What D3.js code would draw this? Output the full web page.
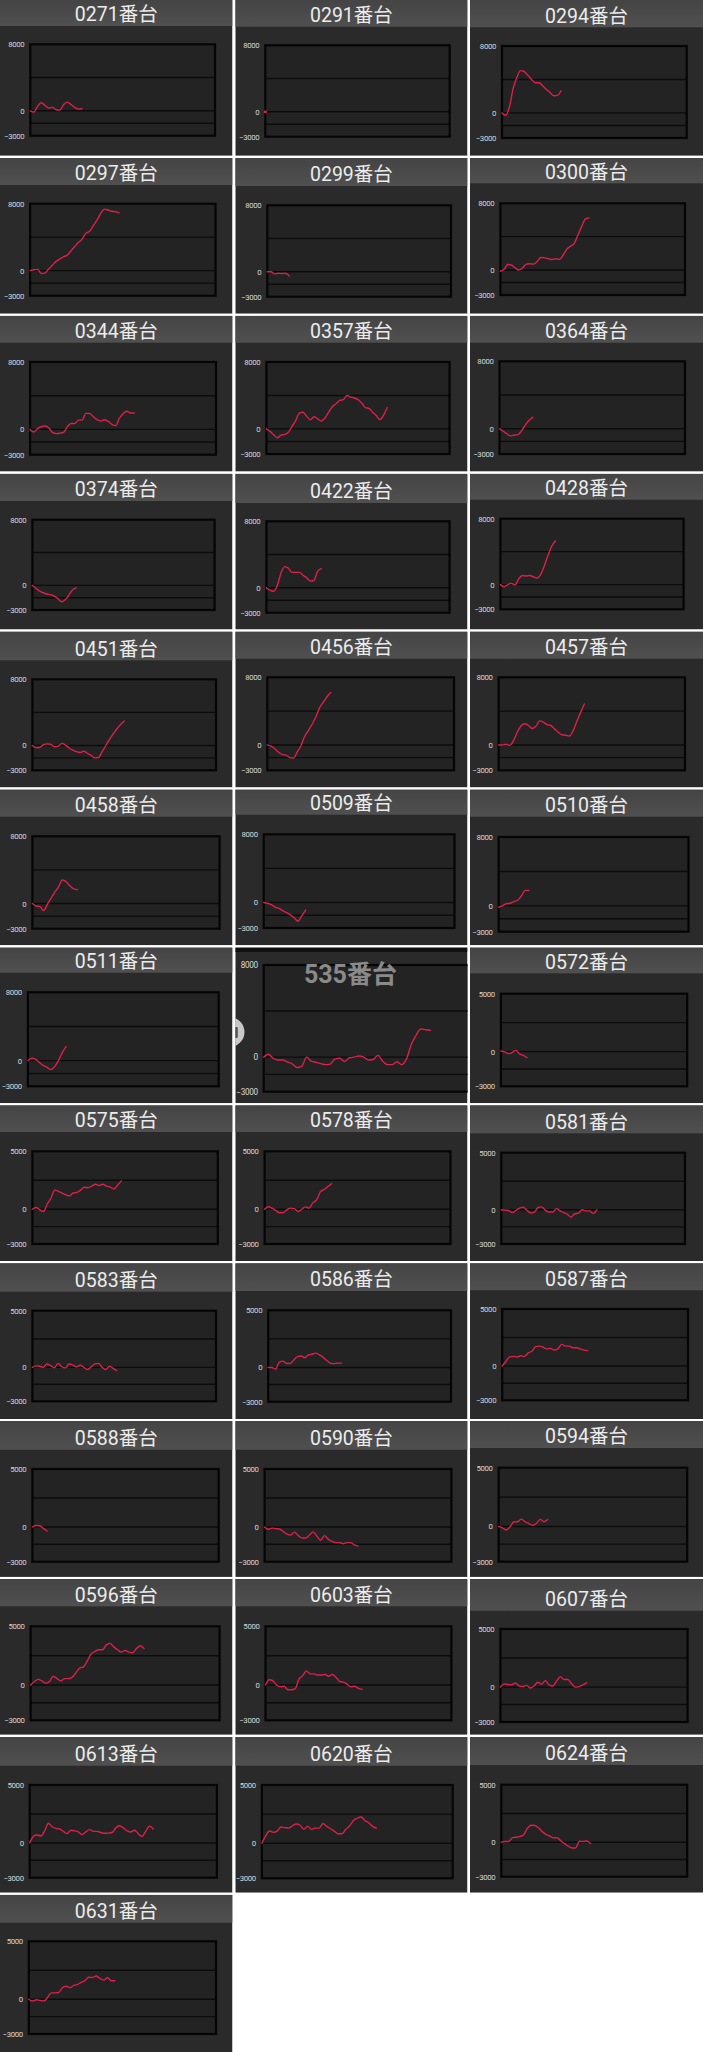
<!DOCTYPE html>
<html><head><meta charset="utf-8">
<script src="https://cdn.jsdelivr.net/npm/d3@7"></script>
<style>html,body{margin:0;padding:0;background:#fff;} svg{display:block;}</style>
</head><body>
<svg id="c" width="703" height="2052"></svg>
<script>
// ---------- DATA ----------
const machines = ["0271","0291","0294","0297","0299","0300","0344","0357","0364","0374","0422","0428",
  "0451","0456","0457","0458","0509","0510","0511","535","0572","0575","0578","0581","0583","0586",
  "0587","0588","0590","0594","0596","0603","0607","0613","0620","0624","0631"];
const yMaxes = [8000,8000,8000,8000,8000,8000,8000,8000,8000,8000,8000,8000,8000,8000,8000,8000,8000,8000,8000,8000,
  5000,5000,5000,5000,5000,5000,5000,5000,5000,5000,5000,5000,5000,5000,5000,5000,5000];
const yMin = -3000;
const xStep = 2; // % of the day between samples
const s0271 = [0,-150,560,960,640,320,440,120,80,720,1040,760,400,200,240];
const s0291 = [0];
const s0294 = [0,-280,700,2900,4200,5050,4950,4500,4000,3600,3600,3250,2800,2450,2050,2100,2650];
const s0297 = [0,100,150,-350,-300,200,650,1100,1400,1650,1850,2350,2850,3350,3750,4450,4700,5350,6000,6800,7350,7250,7100,7050,6900];
const s0299 = [0,0,-250,-180,-200,-180,-520];
const s0300 = [-150,100,650,600,250,0,250,700,750,700,1050,1500,1450,1350,1250,1350,1250,1800,2500,2850,3200,4200,5200,6100,6250];
const s0344 = [0,-300,100,320,400,200,-350,-500,-450,-350,300,700,700,1100,1100,1900,1900,1500,1150,1000,1150,950,600,450,1300,1850,2150,1950,1950];
const s0357 = [0,-300,-700,-1050,-750,-650,-400,300,1000,1900,2000,1500,1100,1450,1200,950,1300,2000,2650,3000,3400,3500,4000,3800,3700,3500,3100,2550,2450,2000,1600,1100,1650,2550];
const s0364 = [0,-300,-600,-850,-750,-700,-200,450,1000,1350];
const s0374 = [0,-350,-700,-900,-1050,-1150,-1300,-1600,-2000,-1750,-1200,-550,-300];
const s0422 = [0,-320,-420,300,1800,2550,2350,1850,1850,1850,1500,1200,800,900,2000,2300];
const s0428 = [0,-250,0,150,-50,700,1100,1050,1100,950,800,1250,2300,3550,4650,5300];
const s0451 = [0,-250,-250,100,200,150,-150,-100,250,50,-300,-550,-750,-850,-700,-950,-1200,-1500,-1450,-750,0,750,1400,2000,2500,2950];
const s0456 = [0,-150,-450,-850,-1150,-1200,-1500,-1550,-850,-100,1000,1700,2450,3300,4400,5050,5700,6200];
const s0457 = [0,0,80,-50,500,1500,2250,2500,2300,1950,2200,2850,2700,2400,2300,1900,1500,1200,1150,1050,1700,2800,3850,4850];
const s0458 = [0,-300,-350,-850,-100,650,1350,2000,2800,2600,2100,1750,1650];
const s0509 = [0,-100,-250,-550,-700,-950,-1200,-1450,-1800,-2200,-1550,-900];
const s0510 = [-150,0,250,300,500,650,1150,1800,1800];
const s0511 = [0,300,150,-200,-550,-750,-1050,-700,0,950,1650];
const s0535 = [0,250,-100,-250,-250,-420,-580,-900,-800,0,-350,-450,-560,-650,-600,-150,-100,-380,-50,0,100,0,-250,-200,150,-350,-650,-650,-400,-650,-150,1100,1900,2450,2380,2330];
const s0572 = [50,-30,-180,-100,100,-200,-330,-520];
const s0575 = [0,150,-50,-200,450,950,1650,1550,1400,1250,1150,1400,1450,1650,1900,1850,2000,2150,2050,2150,2000,1900,1750,2100,2450];
const s0578 = [0,220,100,-100,-300,-300,-50,100,50,-200,0,200,100,550,800,1500,1700,1950,2200];
const s0581 = [0,-30,-60,-250,-50,150,230,-50,-280,-200,200,250,-50,-200,-200,100,-100,-250,-400,-650,-350,-300,0,-100,-100,-320,0];
const s0583 = [0,130,100,0,300,150,-30,350,50,-50,300,200,50,180,0,-200,50,300,350,0,-200,100,-100,-300];
const s0586 = [0,0,-150,450,550,350,350,650,950,1000,850,1100,1150,1250,1100,900,600,380,330,380,380];
const s0587 = [0,400,800,850,800,900,850,1150,1300,1700,1750,1650,1500,1550,1400,1500,1900,1750,1750,1600,1600,1500,1400,1350];
const s0588 = [0,130,100,-150,-350];
const s0590 = [0,-200,-100,-150,-180,-400,-620,-700,-450,-750,-950,-950,-700,-430,-800,-1150,-750,-1050,-1250,-1350,-1350,-1450,-1350,-1350,-1550,-1650];
const s0594 = [0,-120,-300,-50,380,400,620,400,250,100,250,600,400,600];
const s0596 = [0,300,480,350,150,300,750,550,350,550,550,650,1050,1450,1550,2050,2650,2850,3000,3000,3400,3550,3250,3000,2800,2950,2800,2750,3100,3350,3100];
const s0603 = [0,450,350,0,-150,-100,-400,-400,-300,500,800,1200,950,950,850,850,900,750,900,650,300,250,50,-150,-100,-280,-370];
const s0607 = [0,280,220,200,350,100,50,150,-80,100,420,250,560,200,100,500,900,650,650,300,0,50,200,370];
const s0613 = [0,570,680,600,1050,1700,1400,1250,1200,1000,800,1100,1050,950,720,950,1150,1000,1000,900,830,850,900,1300,1480,1300,1050,950,1100,800,560,1000,1450,1210];
const s0620 = [0,650,1050,950,1050,1400,1350,1300,1500,1650,1550,1200,1450,1200,1300,1300,1700,1450,1250,1030,820,820,1200,1500,1950,2150,2250,1950,1750,1450,1290];
const s0624 = [0,60,60,400,430,500,650,1200,1480,1450,1250,920,680,540,380,400,120,-130,-350,-500,-500,80,60,100,-120];
const s0631 = [0,-150,-50,-100,-150,150,550,550,580,1000,1120,1000,1200,1280,1450,1600,1900,1880,2000,1800,1650,1850,1600,1600];
const series = [s0271,s0291,s0294,s0297,s0299,s0300,s0344,s0357,s0364,s0374,s0422,s0428,s0451,s0456,s0457,
  s0458,s0509,s0510,s0511,s0535,s0572,s0575,s0578,s0581,s0583,s0586,s0587,s0588,s0590,s0594,s0596,s0603,
  s0607,s0613,s0620,s0624,s0631];

// ---------- LAYOUT (screenshot geometry) ----------
const colX = [0, 235.3, 470], colW = [232.5, 232.2, 233];
const rowPitch = 157.9, cellH = 155.8;
const headerBottom = [26,26.7,27.3, 185,186,183.3, 342.7,342.7,342.7, 501,503,499.7, 660.3,658.7,658.7,
  816.7,814.7,816.7, 972.7,null,973.3, 1132,1132,1133.3, 1291.7,1291,1290.3, 1449.7,1449.7,1448,
  1606.3,1606.3,1610.7, 1765.7,1765.7,1765, 1922.7];
const boxes = [
 [29.3,43.3,216,136.7],[264.3,44.3,450.7,137.7],[501,45,687.7,139],
 [29.1,202.7,216.5,296.7],[266.3,204.3,452,297.7],[499.4,202.3,686,296],
 [29.1,361,217,455.7],[265.4,361,450.6,455],[498.5,360.3,686,455],
 [31.4,518.7,215.6,611],[265.4,520.3,450.6,613.7],[499.4,517.7,684.6,610.3],
 [31.4,678.3,217,771.3],[266.3,676.3,455,771.3],[497.6,676.3,686,771.3],
 [31.4,835.3,220.6,929.7],[262.7,833.3,455.5,929],[497.6,836,689.5,932.7],
 [26.9,991.3,219.7,1087.3],[262.7,964,502.7,1092.7],[499.9,992.7,688.2,1087.3],
 [31.4,1150.3,218.8,1245],[263.6,1150.3,451.5,1245],[500.3,1151.7,686,1245],
 [31.4,1309.7,217,1402.3],[267.2,1309.3,452,1402.7],[501.2,1308,689,1401.3],
 [31.4,1468,219.7,1562.7],[263.6,1468,452.4,1562.7],[497.6,1466.7,688.2,1562.7],
 [29.6,1625.3,220.6,1721.3],[264.5,1625.3,452.4,1721.3],[499.4,1628,688.6,1723],
 [28.7,1784,217.9,1878.7],[260.9,1784,453.7,1879.3],[500.3,1783.7,688.2,1877.7],
 [27.8,1940.3,217,2035]];

const svg = d3.select("#c");
svg.append("rect").attr("width",703).attr("height",2052).attr("fill","#ffffff");
const defs = svg.append("defs");
const g0 = defs.append("linearGradient").attr("id","hdr").attr("x1",0).attr("y1",0).attr("x2",0).attr("y2",1);
g0.append("stop").attr("offset","0").attr("stop-color","#444444");
g0.append("stop").attr("offset","1").attr("stop-color","#505050");

const LINE = "#dc1f4b";

machines.forEach((name, k) => {
  const r = Math.floor(k/3), c = k%3;
  const cx = colX[c], cw = colW[c];
  const cy = r === 0 ? 0 : r*rowPitch;
  const ch = (r === 12) ? 2052 - cy : cellH;
  const clipId = "clip"+k;
  defs.append("clipPath").attr("id",clipId).append("rect")
    .attr("x",cx).attr("y",cy).attr("width",cw).attr("height",ch);
  const g = svg.append("g").attr("clip-path",`url(#${clipId})`);
  g.append("rect").attr("x",cx).attr("y",cy).attr("width",cw).attr("height",ch).attr("fill","#2a2a2a");

  const special = headerBottom[k] === null;
  if (!special) {
    const hb = headerBottom[k];
    g.append("rect").attr("x",cx).attr("y",cy).attr("width",cw).attr("height",hb-cy).attr("fill","url(#hdr)");
    g.append("text").attr("x",cx+cw/2).attr("y",hb-4.8).attr("text-anchor","middle")
      .attr("font-family","Roboto, 'Noto Sans CJK JP', sans-serif").attr("font-size",19.5)
      .attr("fill","#ececec").text(name+"番台");
  } else {
    g.append("rect").attr("x",cx).attr("y",cy).attr("width",cw).attr("height",4.5).attr("fill","#101010");
  }

  const [L,T,R,B] = boxes[k];
  const ymax = yMaxes[k];
  const x = d3.scaleLinear().domain([0,100]).range([L+1, R-1]);
  const y = d3.scaleLinear().domain([yMin, ymax]).range([B-1, T+1]);

  g.append("rect").attr("x",L+1).attr("y",T+1).attr("width",R-L-2).attr("height",B-T-2)
    .attr("fill","#232323");
  [ymax/2, 0, -1500].forEach(v => {
    g.append("line").attr("x1",L+1).attr("x2",R-1).attr("y1",y(v)).attr("y2",y(v))
      .attr("stroke","#0c0c0c").attr("stroke-width",1.4);
  });
  g.append("rect").attr("x",L+1).attr("y",T+1).attr("width",R-L-2).attr("height",B-T-2)
    .attr("fill","none").attr("stroke","#050505").attr("stroke-width",2.2);

  const axis = d3.axisLeft(y).tickValues([ymax,0,yMin]).tickSize(0).tickPadding(5).tickFormat(d3.format("d"));
  const ag = g.append("g").attr("transform",`translate(${L},0)`).call(axis);
  ag.select(".domain").remove();
  ag.selectAll("text").attr("fill","#d8d8d8").attr("font-family","Roboto, sans-serif")
    .attr("font-size", special ? 8.2 : 7.8).attr("letter-spacing",-0.35);

  const data = series[k];
  if (data.length === 1) {
    g.append("rect").attr("x",x(0)-1.5).attr("y",y(data[0])-1.2).attr("width",3).attr("height",2.4).attr("fill",LINE);
  } else {
    const line = d3.line().x((d,i)=>x(i*xStep)).y(d=>y(d)).curve(d3.curveMonotoneX);
    g.append("path").datum(data).attr("d",line).attr("fill","none").attr("stroke",LINE)
      .attr("stroke-width",1.4).attr("stroke-linejoin","round").attr("stroke-linecap","round");
  }

  if (special) {
    g.append("text").attr("x",cx+cw/2-1).attr("y",983).attr("text-anchor","middle")
      .attr("font-family","Roboto, 'Noto Sans CJK JP', sans-serif").attr("font-weight","bold")
      .attr("font-size",25).attr("fill","#8a8a8a").text(name+"番台");
    g.append("circle").attr("cx",229.5).attr("cy",1032).attr("r",15).attr("fill","#c8c8c8");
    g.append("rect").attr("x",235).attr("y",1027).attr("width",2.8).attr("height",11).attr("rx",1).attr("fill","#555");
  }
});
</script>
</body></html>
